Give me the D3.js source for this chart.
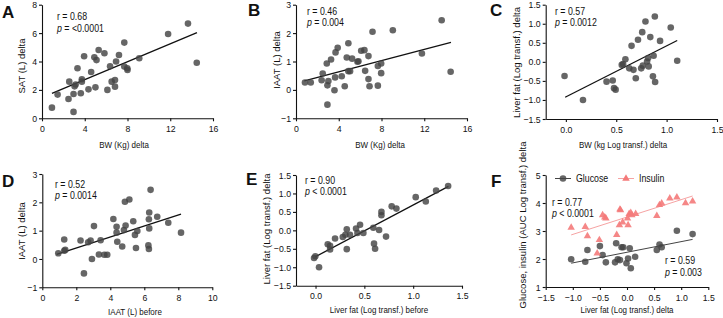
<!DOCTYPE html>
<html><head><meta charset="utf-8">
<script src="https://cdn.jsdelivr.net/npm/d3@7"></script>
<style>
body{margin:0;background:#fff}
svg{display:block}
text{font-family:"Liberation Sans",Arial,Helvetica,sans-serif;fill:#111}
</style>
</head><body>
<svg id="chart" width="723" height="318"></svg>
<script>
// ---------------- DATA ----------------
// Panel A: BW delta vs SAT delta
const bwDeltaA = [0.93,1.46,2.48,2.55,2.95,2.95,3.05,3.15,3.32,3.63,3.73,3.73,3.94,4.35,4.6,4.9,5.0,5.1,5.3,5.84,6.37,6.12,6.52,6.83,6.83,6.93,7.2,7.7,7.7,7.98,8.0,9.1,11.8,13.66,14.48];
const satDelta  = [0.75,1.67,1.36,2.58,0.45,1.71,2.25,2.38,3.52,1.76,2.75,2.58,4.37,2.04,3.26,4.3,2.18,4.1,4.81,4.58,3.66,2.0,2.58,2.7,2.23,4.0,4.46,5.33,3.64,3.52,3.4,4.23,5.94,6.67,3.91];
const lineA = [[0.93,1.76],[14.5,6.03]];
const statsA = ["0.68","= <0.0001"];

// Panel B: BW delta vs IAAT delta
const bwDeltaB = [0.84,1.38,2.4,2.5,2.88,2.94,3.03,2.94,3.28,3.6,3.66,3.7,3.9,4.28,4.56,4.75,4.9,4.9,5.06,5.25,5.75,5.84,6.1,6.4,6.47,6.78,6.78,6.88,7.16,7.66,7.66,7.97,7.97,9.06,11.78,13.63,14.47];
const iaatDeltaB = [0.26,0.26,0.34,0.58,0.93,0.16,0.31,-0.52,1.07,-0.01,0.44,1.32,1.48,0.48,0.13,1.14,1.64,0.66,0.66,1.1,0.99,1.01,1.38,1.4,0.67,1.19,0.38,0.13,2.05,0.84,0.15,0.93,0.59,2.1,1.28,2.45,0.64];
const lineB = [[0.78,0.32],[14.5,1.67]];
const statsB = ["0.46","= 0.004"];

// Panel C: BW (log) delta vs liver fat (log) delta
const bwLogDelta = [-0.013,0.17,0.404,0.465,0.478,0.494,0.555,0.568,0.591,0.629,0.652,0.671,0.694,0.716,0.748,0.758,0.764,0.79,0.806,0.816,0.822,0.838,0.864,0.871,0.883,0.886,0.935,1.041,1.105];
const liverDeltaC = [-0.37,-1.0,-0.52,-0.49,-0.69,-0.73,-0.08,-0.06,0.07,-0.17,0.42,-0.21,-0.43,0.58,-0.17,0.78,-0.1,1.06,0.01,0.1,-0.12,0.65,-0.38,0.16,1.19,-0.53,0.55,0.9,0.03];
const lineC = [[-0.007,-0.93],[1.105,0.56]];
const statsC = ["0.57","= 0.0012"];

// Panel D: IAAT before vs IAAT delta
const iaatBefore = [0.94,1.29,1.29,1.35,2.25,2.45,2.7,2.84,2.92,3.04,3.33,3.43,3.65,3.82,4.18,4.37,4.37,4.41,4.7,4.8,4.86,4.9,5.12,5.35,5.45,5.51,5.59,6.24,6.27,6.27,6.29,6.29,6.37,6.76,7.41,8.16];
const iaatDeltaD = [0.2,0.29,0.69,0.32,0.65,-0.51,0.59,0.65,0.0,1.16,0.16,0.66,0.15,0.15,1.41,1.14,0.93,0.61,0.44,1.02,2.02,1.18,2.1,1.33,0.85,0.39,0.99,0.48,0.35,1.4,1.64,1.08,2.44,1.49,1.28,0.93];
const lineD = [[0.84,0.16],[8.16,1.58]];
const statsD = ["0.52","= 0.0014"];

// Panel E: liver fat before vs liver fat delta
const liverBefore = [-0.015,-0.002,0.036,0.125,0.149,0.149,0.2,0.279,0.306,0.32,0.32,0.353,0.415,0.429,0.456,0.49,0.592,0.599,0.61,0.651,0.675,0.675,0.722,0.78,0.828,1.026,1.129,1.235,1.358];
const liverDeltaE = [-0.75,-0.7,-1.0,-0.38,-0.42,-0.52,-0.22,-0.18,-0.12,0.03,-0.51,-0.12,0.05,-0.07,0.15,-0.07,0.07,-0.36,-0.5,0.01,0.5,0.41,-0.17,0.65,0.59,0.9,0.78,1.08,1.2];
const lineE = [[-0.005,-0.72],[1.361,1.19]];
const statsE = ["0.90","< 0.0001"];

// Panel F: liver fat delta vs glucose / insulin AUC
const liverDeltaGlu = [-1.03,-0.77,-0.73,-0.5,-0.45,-0.39,-0.22,-0.2,-0.17,-0.13,-0.1,-0.07,-0.01,0.02,0.05,0.07,0.15,0.55,0.6,0.64,0.92,1.21];
const glucoseAUC   = [1.99,1.9,2.32,2.46,2.14,1.88,1.88,2.56,1.99,1.96,2.42,2.42,1.85,2.02,2.38,1.67,2.08,2.32,2.52,2.42,3.01,2.89];
const liverDeltaIns = [-1.03,-0.77,-0.73,-0.51,-0.55,-0.45,-0.41,-0.39,-0.19,-0.14,-0.13,-0.12,-0.08,0.01,0.02,0.04,0.07,0.09,0.16,0.55,0.6,0.64,0.79,0.92,1.08,1.21];
const insulinAUC    = [3.12,3.15,2.82,2.68,2.2,3.57,3.49,3.45,2.86,3.21,3.77,3.75,3.31,3.45,3.21,3.61,3.65,3.57,3.61,3.54,3.93,3.99,4.17,4.2,4.0,4.06];
const lineGlu = [[-1.03,1.85],[1.21,2.7]];
const lineIns = [[-1.03,2.86],[1.21,4.25]];
const statsGlu = ["0.59","= 0.003"];
const statsIns = ["0.77","< 0.0001"];
const seriesNames = ["Glucose","Insulin"];

// Tick values
const ticksBW = [0,4,8,12,16];
const ticksSAT = [0,2,4,6,8];
const ticksIAAT = [-1,0,1,2,3];
const ticksLog = [0,0.5,1,1.5];
const ticksLiver = [-1.5,-1,-0.5,0,0.5,1,1.5];
const ticksIAATBefore = [0,2,4,6,8,10];
const ticksFx = [-1.5,-1,-0.5,0,0.5,1,1.5];
const ticksFy = [1,2,3,4,5];

// ---------------- DRAWING ----------------
const svg = d3.select("#chart");
const SX = 0.84;            // horizontal compression of titles
const SXT = 0.92;           // compression of tick labels
const SXA = 0.88;           // compression of annotations
const FS = 9.5;             // base font size
const FSA = 10;             // annotation font size
const GRAY = "#444";
const SALMON = "#f47a7a";
const f1 = d3.format(".1f"), f0 = d3.format("d");

function htext(g, x, y, anchor, size, sx) {
  return g.append("text")
    .attr("transform", `translate(${x},${y}) scale(${sx || SX},1)`)
    .attr("text-anchor", anchor || "start")
    .style("font-size", (size || FS) + "px");
}

function panel(c) {
  const g = svg.append("g");
  const x = d3.scaleLinear().domain(c.xDomain).range([c.x0, c.x1]);
  const y = d3.scaleLinear().domain(c.yDomain).range([c.y1, c.y0]);

  const ax = g.append("g").attr("transform", `translate(0,${c.y1})`)
    .call(d3.axisBottom(x).tickValues(c.xTicks).tickFormat(c.xFmt).tickSize(3).tickSizeOuter(0).tickPadding(4));
  const ay = g.append("g").attr("transform", `translate(${c.x0},0)`)
    .call(d3.axisLeft(y).tickValues(c.yTicks).tickFormat(c.yFmt).tickSize(3).tickSizeOuter(0).tickPadding(2));
  [ax, ay].forEach(a => {
    a.selectAll("path,line").attr("stroke", "#111").attr("stroke-width", 1.1);
    a.selectAll("text").style("font-size", FS + "px").style("font-family", '"Liberation Sans",Arial,sans-serif').attr("fill", "#111");
  });
  ax.selectAll(".tick text").attr("transform", `scale(${SXT},1)`);
  ay.selectAll(".tick text").attr("transform", `scale(${SXT},1)`).attr("x", -5 / SXT);

  // titles
  htext(g, c.xtX, c.xtY, "middle").text(c.xTitle);
  g.append("text").attr("transform", `translate(${c.ytX},${c.ytY}) rotate(-90)`)
    .attr("text-anchor", "middle").style("font-size", FS + "px").text(c.yTitle);
  // letter
  g.append("text").attr("x", c.lx).attr("y", c.ly).style("font-size", "17px").style("font-weight", "bold").text(c.letter);

  c.series.forEach(s => {
    const pts = d3.zip(s.xs, s.ys);
    g.append("line")
      .attr("x1", x(s.line[0][0])).attr("y1", y(s.line[0][1]))
      .attr("x2", x(s.line[1][0])).attr("y2", y(s.line[1][1]))
      .attr("stroke", s.lineColor).attr("stroke-width", s.lineWidth);
    if (s.shape === "tri") {
      g.selectAll(null).data(pts).join("path")
        .attr("d", d3.symbol(d3.symbolTriangle, 24))
        .attr("transform", d => `translate(${x(d[0])},${y(d[1])})`)
        .attr("fill", s.color).attr("fill-opacity", 0.9);
    } else {
      g.selectAll(null).data(pts).join("circle")
        .attr("cx", d => x(d[0])).attr("cy", d => y(d[1])).attr("r", 3.3)
        .attr("fill", s.color).attr("fill-opacity", 0.82);
    }
    if (s.stats) {
      const t1 = htext(g, s.sx, s.sy1, "start", FSA, SXA).attr("fill", s.textColor);
      t1.append("tspan").text("r = " + s.stats[0]);
      const t2 = htext(g, s.sx, s.sy2, "start", FSA, SXA).attr("fill", s.textColor);
      t2.append("tspan").style("font-style", "italic").text("p");
      t2.append("tspan").text(" " + s.stats[1]);
    }
  });
  return {g, x, y};
}

const base = {lineColor: "#111", lineWidth: 1.3, color: GRAY, textColor: "#111"};

panel({letter: "A", lx: 2, ly: 18, x0: 42, x1: 213, y0: 4.7, y1: 118.3,
  xDomain: [0, 16], yDomain: [0, 8], xTicks: ticksBW, yTicks: ticksSAT, xFmt: f0, yFmt: f0,
  xTitle: "BW (Kg) delta", xtX: 124, xtY: 148, yTitle: "SAT (L) delta", ytX: 25, ytY: 66,
  series: [Object.assign({}, base, {xs: bwDeltaA, ys: satDelta, line: lineA, stats: statsA, sx: 57, sy1: 20, sy2: 31.5})]});

panel({letter: "B", lx: 248, ly: 15.5, x0: 296, x1: 467, y0: 4.7, y1: 118.3,
  xDomain: [0, 16], yDomain: [-1, 3], xTicks: ticksBW, yTicks: ticksIAAT, xFmt: f0, yFmt: f0,
  xTitle: "BW (Kg) delta", xtX: 380, xtY: 148, yTitle: "IAAT (L) delta", ytX: 280, ytY: 60,
  series: [Object.assign({}, base, {xs: bwDeltaB, ys: iaatDeltaB, line: lineB, stats: statsB, sx: 307, sy1: 15, sy2: 26})]});

panel({letter: "C", lx: 490, ly: 15.5, x0: 545.7, x1: 717, y0: 4.7, y1: 119,
  xDomain: [-0.2, 1.5], yDomain: [-1.5, 1.5], xTicks: ticksLog, yTicks: ticksLiver, xFmt: f1, yFmt: f1,
  xTitle: "BW (kg Log transf.) delta", xtX: 623, xtY: 148, yTitle: "Liver fat (Log transf.) delta", ytX: 520, ytY: 62.5,
  series: [Object.assign({}, base, {xs: bwLogDelta, ys: liverDeltaC, line: lineC, stats: statsC, sx: 555, sy1: 15, sy2: 26})]});

panel({letter: "D", lx: 2, ly: 187, x0: 42.3, x1: 212.3, y0: 174, y1: 287.3,
  xDomain: [0, 10], yDomain: [-1, 3], xTicks: ticksIAATBefore, yTicks: ticksIAAT, xFmt: f0, yFmt: f0,
  xTitle: "IAAT (L) before", xtX: 135, xtY: 315, yTitle: "IAAT (L) delta", ytX: 25, ytY: 231,
  series: [Object.assign({}, base, {xs: iaatBefore, ys: iaatDeltaD, line: lineD, stats: statsD, sx: 55, sy1: 188, sy2: 198.5})]});

panel({letter: "E", lx: 246, ly: 185, x0: 296, x1: 462, y0: 175, y1: 285.7,
  xDomain: [-0.2, 1.5], yDomain: [-1.5, 1.5], xTicks: ticksLog, yTicks: ticksLiver, xFmt: f1, yFmt: f1,
  xTitle: "Liver fat (Log transf.) before", xtX: 379, xtY: 313, yTitle: "Liver fat (Log transf.) delta", ytX: 270, ytY: 229,
  series: [Object.assign({}, base, {xs: liverBefore, ys: liverDeltaE, line: lineE, stats: statsE, sx: 305, sy1: 184, sy2: 195})]});

const pF = panel({letter: "F", lx: 491, ly: 187, x0: 545.7, x1: 708.3, y0: 175, y1: 287,
  xDomain: [-1.5, 1.5], yDomain: [1, 5], xTicks: ticksFx, yTicks: ticksFy, xFmt: f1, yFmt: f0,
  xTitle: "Liver fat (Log transf.) delta", xtX: 627, xtY: 313, yTitle: "Glucose, insulin (AUC Log transf.) delta", ytX: 526, ytY: 225,
  series: [
    Object.assign({}, base, {xs: liverDeltaGlu, ys: glucoseAUC, line: lineGlu, lineColor: "#444", lineWidth: 1, stats: statsGlu, sx: 665, sy1: 264, sy2: 276}),
    {xs: liverDeltaIns, ys: insulinAUC, line: lineIns, lineColor: "#f6a3a3", lineWidth: 1, color: SALMON, shape: "tri", textColor: "#f06a6a", stats: statsIns, sx: 552, sy1: 206, sy2: 217}
  ]});

// legend for F
const lg = pF.g.append("g");
lg.append("line").attr("x1", 555).attr("x2", 571).attr("y1", 178.5).attr("y2", 178.5).attr("stroke", "#444").attr("stroke-width", 1);
lg.append("circle").attr("cx", 563).attr("cy", 178.5).attr("r", 3.3).attr("fill", GRAY).attr("fill-opacity", 0.82);
htext(lg, 576, 182, "start", 10, 0.88).text(seriesNames[0]);
lg.append("line").attr("x1", 618).attr("x2", 634).attr("y1", 178.5).attr("y2", 178.5).attr("stroke", "#f6a3a3").attr("stroke-width", 1);
lg.append("path").attr("d", d3.symbol(d3.symbolTriangle, 24)).attr("transform", "translate(626,178.5)").attr("fill", SALMON);
htext(lg, 639, 182, "start", 10, 0.88).text(seriesNames[1]);
</script>
</body></html>
